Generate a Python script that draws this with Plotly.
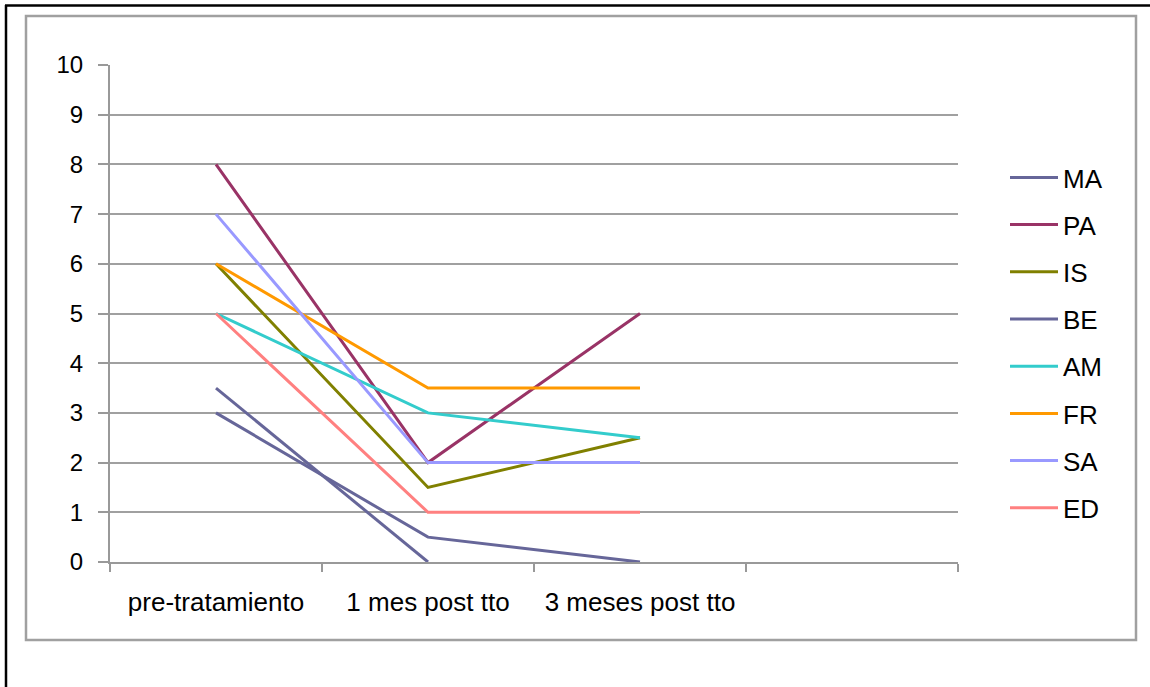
import plotly.graph_objects as go

categories = ["pre-tratamiento", "1 mes post tto", "3 meses post tto", " "]
series_names = ["MA", "PA", "IS", "BE", "AM", "FR", "SA", "ED"]
MA = [3, 0.5, 0]
PA = [8, 2, 5]
IS = [6, 1.5, 2.5]
BE = [3.5, 0, None]
AM = [5, 3, 2.5]
FR = [6, 3.5, 3.5]
SA = [7, 2, 2]
ED = [5, 1, 1]
colors = ["#666699", "#993366", "#808000", "#666699", "#33CCCC", "#FF9900", "#9999FF", "#FF8080"]
values = [MA, PA, IS, BE, AM, FR, SA, ED]

W, H = 1150, 687
L, R, T, B = 110, 958, 65, 562

fig = go.Figure()
for name, vals, col in zip(series_names, values, colors):
    fig.add_trace(go.Scatter(
        x=categories[:3], y=vals, name=name, mode="lines",
        line=dict(color=col, width=3), legendgroup=name,
        connectgaps=False,
    ))

def px_x(p):
    return (p - L) / (R - L)

def px_y(p):
    return (B - p) / (B - T)

shapes = [
    # grey chart frame
    dict(type="rect", xref="paper", yref="paper",
         x0=px_x(26), x1=px_x(1136), y0=px_y(640), y1=px_y(16),
         line=dict(color="#A0A0A0", width=2.5), fillcolor="rgba(0,0,0,0)", layer="below"),
    # black outer border (top and left)
    dict(type="line", xref="paper", yref="paper",
         x0=px_x(5), x1=px_x(1152), y0=px_y(5.5), y1=px_y(5.5),
         line=dict(color="black", width=2.5)),
    dict(type="line", xref="paper", yref="paper",
         x0=px_x(6), x1=px_x(6), y0=px_y(5), y1=px_y(690),
         line=dict(color="black", width=2.5)),
]

fig.update_layout(
    width=W, height=H,
    margin=dict(l=L, r=W - R, t=T, b=H - B),
    paper_bgcolor="white", plot_bgcolor="white",
    font=dict(family="Liberation Sans, Arial", size=24, color="black"),
    showlegend=True,
    legend=dict(
        x=px_x(1005), y=px_y(154), xanchor="left", yanchor="top",
        font=dict(size=26, color="black"),
        tracegroupgap=10.4, itemwidth=48, bgcolor="rgba(0,0,0,0)",
    ),
    shapes=shapes,
    xaxis=dict(
        type="category", categoryorder="array", categoryarray=categories,
        range=[-0.5, 3.5], tickson="boundaries", ticks="outside", ticklen=8,
        tickcolor="#999999", tickwidth=2,
        showline=True, linecolor="#999999", linewidth=2,
        showgrid=False, zeroline=False, ticklabelstandoff=16,
        tickfont=dict(size=26),
    ),
    yaxis=dict(
        range=[0, 10], tickvals=list(range(0, 11)), ticks="outside", ticklen=10,
        tickcolor="#999999", tickwidth=2,
        showline=True, linecolor="#999999", linewidth=2,
        showgrid=True, gridcolor="#A0A0A0", gridwidth=2,
        zeroline=False, ticklabelstandoff=10,
        tickfont=dict(size=24),
    ),
)

fig.write_html("out.html", post_script="document.body.style.margin='0px';",
               config={"displayModeBar": False})
